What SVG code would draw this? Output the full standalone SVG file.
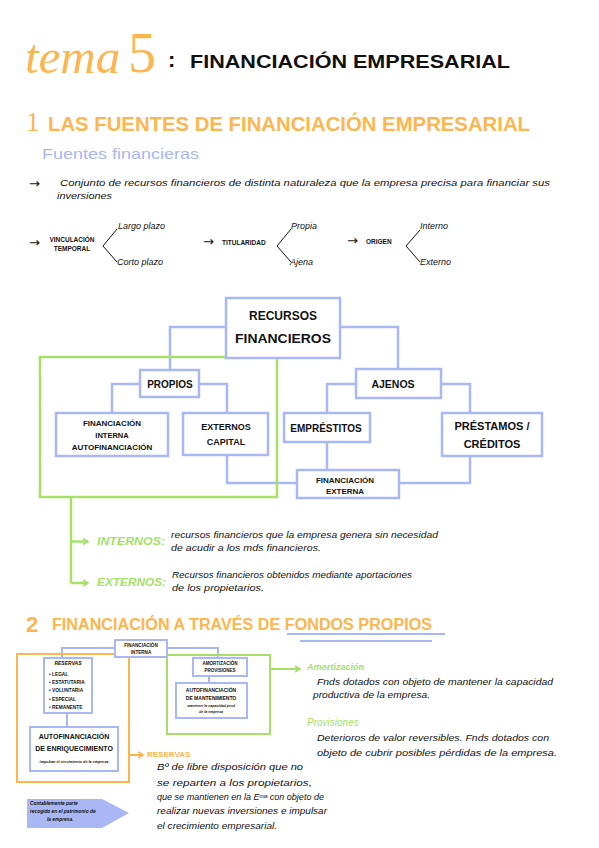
<svg xmlns="http://www.w3.org/2000/svg" width="599" height="848" viewBox="0 0 599 848">
<defs>
<style>
.bx{fill:#fff;stroke:#a9b7f4;stroke-width:2.5}
.cn{fill:none;stroke:#a9b7f4;stroke-width:2.5}
.gr{fill:none;stroke:#a6e067;stroke-width:2.5}
.or{fill:none;stroke:#fdb54e;stroke-width:2}
.hw{font-family:"Liberation Sans",sans-serif;font-style:italic;fill:#111}
.cp{font-family:"Liberation Sans",sans-serif;font-weight:bold;fill:#111}
.org{fill:#fdb54e}
.grt{fill:#a6e067}
.blt{fill:#a8b6f5}
.mid{text-anchor:middle}
</style>
<marker id="ga" markerWidth="8" markerHeight="8" refX="6" refY="4" orient="auto" markerUnits="userSpaceOnUse"><path d="M1,1 L6,4 L1,7" fill="none" stroke="#a6e067" stroke-width="1.6"/></marker>
<marker id="oa" markerWidth="8" markerHeight="8" refX="6" refY="4" orient="auto" markerUnits="userSpaceOnUse"><path d="M1,1 L6,4 L1,7" fill="none" stroke="#fdb54e" stroke-width="1.6"/></marker>
</defs>
<rect width="599" height="848" fill="#fff"/>

<!-- Title -->
<g id="title">
<text x="25" y="73" font-family="Liberation Serif,serif" class="org"><tspan font-style="italic" font-size="49">tema</tspan><tspan x="128" y="72" font-size="56">5</tspan></text>
<text x="168" y="67" class="cp" font-size="22">:</text>
<text x="190" y="68" class="cp" font-size="19" textLength="320" lengthAdjust="spacingAndGlyphs">FINANCIACIÓN EMPRESARIAL</text>
</g>

<g id="heading1">
<text x="26" y="131" font-family="Liberation Serif,serif" font-size="27" class="org">1</text>
<text x="48" y="131" font-family="Liberation Sans,sans-serif" font-weight="bold" font-size="20" class="org" textLength="482" lengthAdjust="spacingAndGlyphs">LAS FUENTES DE FINANCIACIÓN EMPRESARIAL</text>
<text x="42" y="159" font-family="Liberation Sans,sans-serif" font-size="15" class="blt" textLength="157" lengthAdjust="spacingAndGlyphs">Fuentes financieras</text>
</g>

<g id="definition">
<text x="29" y="188" font-family="DejaVu Sans,sans-serif" font-size="13" fill="#111">→</text>
<text x="60" y="186" class="hw" font-size="9" textLength="490" lengthAdjust="spacingAndGlyphs">Conjunto de recursos financieros de distinta naturaleza que la empresa precisa para financiar sus</text>
<text x="57" y="199" class="hw" font-size="8.5" textLength="55" lengthAdjust="spacingAndGlyphs">inversiones</text>
</g>

<g id="classification">
<text x="29" y="247" font-family="DejaVu Sans,sans-serif" font-size="13" fill="#111">→</text>
<text x="72" y="242" class="cp mid" font-size="6.5">VINCULACIÓN</text>
<text x="72" y="251" class="cp mid" font-size="6.5">TEMPORAL</text>
<polyline fill="none" stroke="#111" stroke-width="1" points="117,229 103,246 117,262"/>
<text x="118" y="229" class="hw" font-size="9">Largo plazo</text>
<text x="117" y="265" class="hw" font-size="9">Corto plazo</text>

<text x="203" y="246" font-family="DejaVu Sans,sans-serif" font-size="13" fill="#111">→</text>
<text x="222" y="245" class="cp" font-size="6.5">TITULARIDAD</text>
<polyline fill="none" stroke="#111" stroke-width="1" points="291,229 277,246 291,262"/>
<text x="291" y="229" class="hw" font-size="9">Propia</text>
<text x="290" y="265" class="hw" font-size="9">Ajena</text>

<text x="347" y="245" font-family="DejaVu Sans,sans-serif" font-size="13" fill="#111">→</text>
<text x="366" y="244" class="cp" font-size="6.5">ORIGEN</text>
<polyline fill="none" stroke="#111" stroke-width="1" points="420,230 406,246 420,262"/>
<text x="420" y="229" class="hw" font-size="9">Interno</text>
<text x="420" y="265" class="hw" font-size="9">Externo</text>
</g>

<!-- connectors of main diagram -->
<g id="connectors">
<polyline class="cn" points="226,327 170,327 170,370"/>
<polyline class="cn" points="340,327 398,327 398,369"/>
<polyline class="cn" points="140,384 112,384 112,413"/>
<polyline class="cn" points="199,384 227,384 227,413"/>
<polyline class="cn" points="227,455 227,483 297,483"/>
<polyline class="cn" points="356,384 327,384 327,413"/>
<polyline class="cn" points="327,442 327,470"/>
<polyline class="cn" points="441,384 470,384 470,413"/>
<polyline class="cn" points="470,456 470,483 399,483"/>
<rect class="gr" x="40" y="357" width="237" height="140"/>
<polyline class="gr" points="71,497 71,583"/>
<line class="gr" x1="71" y1="541.5" x2="88" y2="541.5" marker-end="url(#ga)"/>
<line class="gr" x1="71" y1="583" x2="88" y2="583" marker-end="url(#ga)"/>
</g>

<g id="recursos">
<rect class="bx" x="226" y="298" width="114" height="60"/>
<text x="283" y="320" class="cp mid" font-size="13" textLength="68" lengthAdjust="spacingAndGlyphs">RECURSOS</text>
<text x="283" y="343" class="cp mid" font-size="13" textLength="96" lengthAdjust="spacingAndGlyphs">FINANCIEROS</text>
</g>
<g id="propios">
<rect class="bx" x="140" y="370" width="59" height="27"/>
<text x="170" y="388" class="cp mid" font-size="10">PROPIOS</text>
</g>
<g id="fin-interna">
<rect class="bx" x="56" y="413" width="112" height="43"/>
<text x="112" y="426" class="cp mid" font-size="8">FINANCIACIÓN</text>
<text x="112" y="438" class="cp mid" font-size="7.5">INTERNA</text>
<text x="112" y="450" class="cp mid" font-size="8">AUTOFINANCIACIÓN</text>
</g>
<g id="externos">
<rect class="bx" x="183" y="413" width="85" height="42"/>
<text x="226" y="430" class="cp mid" font-size="9">EXTERNOS</text>
<text x="226" y="445" class="cp mid" font-size="9">CAPITAL</text>
</g>
<g id="ajenos">
<rect class="bx" x="356" y="369" width="85" height="29"/>
<text x="393" y="388" class="cp mid" font-size="10.5">AJENOS</text>
</g>
<g id="emprestitos">
<rect class="bx" x="284" y="413" width="86" height="29"/>
<text x="326" y="432" class="cp mid" font-size="10">EMPRÉSTITOS</text>
</g>
<g id="prestamos">
<rect class="bx" x="442" y="413" width="100" height="43"/>
<text x="492" y="430" class="cp mid" font-size="11">PRÉSTAMOS /</text>
<text x="492" y="448" class="cp mid" font-size="11">CRÉDITOS</text>
</g>
<g id="fin-externa">
<rect class="bx" x="297" y="470" width="102" height="28"/>
<text x="345" y="483" class="cp mid" font-size="8">FINANCIACIÓN</text>
<text x="345" y="494" class="cp mid" font-size="8">EXTERNA</text>
</g>

<g id="internos-externos">
<text x="97" y="545" class="grt" font-family="Liberation Sans,sans-serif" font-style="italic" font-weight="bold" font-size="11" textLength="68" lengthAdjust="spacingAndGlyphs">INTERNOS:</text>
<text x="171" y="538" class="hw" font-size="8.5" textLength="267" lengthAdjust="spacingAndGlyphs">recursos financieros que la empresa genera sin necesidad</text>
<text x="171" y="551" class="hw" font-size="8.5" textLength="150" lengthAdjust="spacingAndGlyphs">de acudir a los mds financieros.</text>
<text x="97" y="586" class="grt" font-family="Liberation Sans,sans-serif" font-style="italic" font-weight="bold" font-size="11" textLength="69" lengthAdjust="spacingAndGlyphs">EXTERNOS:</text>
<text x="172" y="578" class="hw" font-size="8.5" textLength="240" lengthAdjust="spacingAndGlyphs">Recursos financieros obtenidos mediante aportaciones</text>
<text x="172" y="591" class="hw" font-size="8.5" textLength="92" lengthAdjust="spacingAndGlyphs">de los propietarios.</text>
</g>

<g id="heading2">
<text x="26" y="632" font-family="Liberation Sans,sans-serif" font-weight="bold" font-size="22" class="org">2</text>
<text x="52" y="630" font-family="Liberation Sans,sans-serif" font-weight="bold" font-size="16" class="org" textLength="380" lengthAdjust="spacingAndGlyphs">FINANCIACIÓN A TRAVÉS DE FONDOS PROPIOS</text>
<line x1="287" y1="634" x2="445" y2="634" stroke="#a9b7f4" stroke-width="2"/>
<line x1="300" y1="641" x2="432" y2="641" stroke="#a9b7f4" stroke-width="2"/>
</g>

<!-- bottom diagram -->
<g id="connectors-2">
<polyline class="cn" style="stroke-width:2" points="115,648 62,648 62,658"/>
<polyline class="cn" style="stroke-width:2" points="167,648 218,648 218,658"/>
<line class="cn" style="stroke-width:2" x1="67" y1="713" x2="67" y2="727"/>
<line class="cn" style="stroke-width:2" x1="209" y1="676" x2="209" y2="683"/>
<rect class="or" x="17" y="654" width="112" height="128"/>
<line class="or" x1="129" y1="755" x2="143" y2="755" marker-end="url(#oa)"/>
<rect class="gr" style="stroke-width:2" x="167" y="655" width="103" height="79"/>
<line class="gr" style="stroke-width:2" x1="270" y1="669" x2="300" y2="669" marker-end="url(#ga)"/>
</g>
<g id="fin-interna-2">
<rect class="bx" style="stroke-width:2" x="115" y="640" width="52" height="17"/>
<text x="141" y="647" class="cp mid" font-size="4.6">FINANCIACIÓN</text>
<text x="141" y="654" class="cp mid" font-size="4.6">INTERNA</text>
</g>
<g id="reservas-box">
<rect class="bx" style="stroke-width:2" x="44" y="658" width="48" height="55"/>
<text x="68" y="665" class="cp mid" font-size="5" font-style="italic">RESERVAS</text>
<text x="49" y="676" class="cp" font-size="4.8">• LEGAL</text>
<text x="49" y="684" class="cp" font-size="4.8">• ESTATUTARIA</text>
<text x="49" y="692" class="cp" font-size="4.8">• VOLUNTARIA</text>
<text x="49" y="701" class="cp" font-size="4.8">• ESPECIAL</text>
<text x="49" y="709" class="cp" font-size="4.8">• REMANENTE</text>
</g>
<g id="enriquecimiento">
<rect class="bx" style="stroke-width:2" x="30" y="727" width="88" height="44"/>
<text x="74" y="739" class="cp mid" font-size="7">AUTOFINANCIACIÓN</text>
<text x="74" y="751" class="cp mid" font-size="7">DE ENRIQUECIMIENTO</text>
<text x="74" y="763" class="hw mid" font-size="3.8" font-weight="bold">impulsar el crecimiento de la empresa</text>
</g>
<g id="amortizacion-box">
<rect class="bx" style="stroke-width:2" x="193" y="658" width="54" height="18"/>
<text x="220" y="665" class="cp mid" font-size="4.5">AMORTIZACIÓN</text>
<text x="220" y="672" class="cp mid" font-size="4.5">PROVISIONES</text>
</g>
<g id="mantenimiento">
<rect class="bx" style="stroke-width:2" x="176" y="683" width="71" height="35"/>
<text x="211" y="692" class="cp mid" font-size="5">AUTOFINANCIACIÓN</text>
<text x="211" y="700" class="cp mid" font-size="5">DE MANTENIMIENTO</text>
<text x="211" y="707" class="hw mid" font-size="3.6" font-weight="bold">mantener la capacidad prod</text>
<text x="211" y="713" class="hw mid" font-size="3.6" font-weight="bold">de la empresa</text>
</g>
<g id="contable">
<polygon points="27,799 102,799 129,813 102,828 27,828" fill="#a9b7f4"/>
<text x="30" y="805" class="hw" font-size="4.8" font-weight="bold">Contablemente parte</text>
<text x="30" y="813" class="hw" font-size="4.8" font-weight="bold">recogido en el patrimonio de</text>
<text x="47" y="821" class="hw" font-size="4.8" font-weight="bold">la empresa.</text>
</g>

<g id="reservas-text">
<text x="147" y="757" class="org" font-family="Liberation Sans,sans-serif" font-weight="bold" font-size="8">RESERVAS</text>
<text x="157" y="770" class="hw" font-size="9" textLength="146" lengthAdjust="spacingAndGlyphs">Bº de libre disposición que no</text>
<text x="157" y="786" class="hw" font-size="9" textLength="155" lengthAdjust="spacingAndGlyphs">se reparten a los propietarios,</text>
<text x="157" y="800" class="hw" font-size="8.5" textLength="167" lengthAdjust="spacingAndGlyphs">que se mantienen en la Eᵐᵃ con objeto de</text>
<text x="157" y="814" class="hw" font-size="8.5" textLength="170" lengthAdjust="spacingAndGlyphs">realizar nuevas inversiones e impulsar</text>
<text x="157" y="829" class="hw" font-size="9" textLength="120" lengthAdjust="spacingAndGlyphs">el crecimiento empresarial.</text>
</g>

<g id="amortizacion-text">
<text x="307" y="670" class="grt" font-family="Liberation Sans,sans-serif" font-style="italic" font-weight="bold" font-size="9">Amortización</text>
<text x="317" y="685" class="hw" font-size="8.5" textLength="236" lengthAdjust="spacingAndGlyphs">Fnds dotados con objeto de mantener la capacidad</text>
<text x="313" y="698" class="hw" font-size="8.5" textLength="117" lengthAdjust="spacingAndGlyphs">productiva de la empresa.</text>
<text x="307" y="726" class="grt" font-family="Liberation Sans,sans-serif" font-style="italic" font-size="10">Provisiones</text>
<text x="317" y="741" class="hw" font-size="8.5" textLength="232" lengthAdjust="spacingAndGlyphs">Deterioros de valor reversibles. Fnds dotados con</text>
<text x="317" y="756" class="hw" font-size="8.5" textLength="240" lengthAdjust="spacingAndGlyphs">objeto de cubrir posibles pérdidas de la empresa.</text>
</g>
</svg>
